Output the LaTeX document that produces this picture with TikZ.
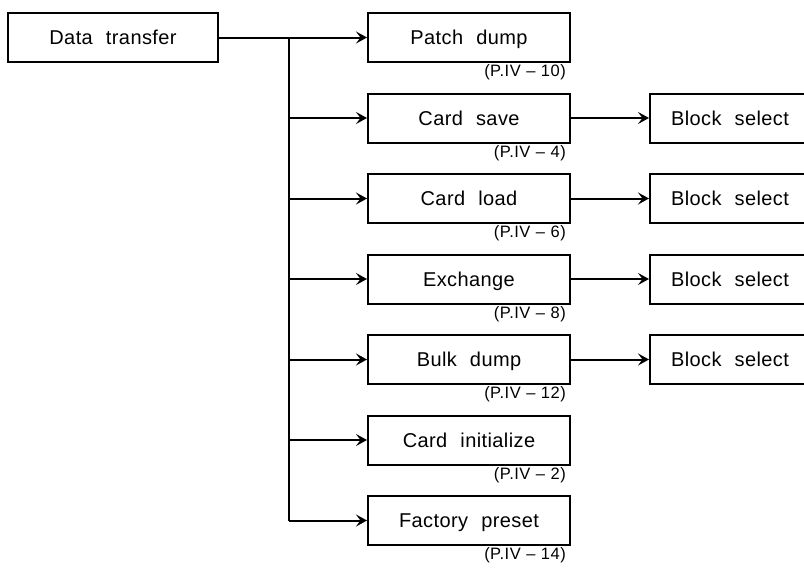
\documentclass[tikz,border=0pt]{standalone}
\usepackage{fontspec}
\setmainfont{Liberation Sans}[LetterSpace=2,WordSpace=2.2]
\newfontfamily\reffont{Liberation Sans}[LetterSpace=3]
\usetikzlibrary{arrows.meta}
\begin{document}
\begin{tikzpicture}[x=1pt,y=-1pt,
  box/.style={draw,line width=2pt,minimum height=49pt,inner sep=0pt,text height=14pt,text depth=0pt,font=\fontsize{20}{22}\selectfont},
  midbox/.style={box,minimum width=202pt},
  endbox/.style={box,minimum width=160pt,anchor=west},
  ref/.style={font=\reffont\fontsize{16.5}{18}\selectfont,anchor=east,inner sep=0pt},
  conn/.style={line width=2pt},
  arr/.style={conn,-{Stealth[length=11pt,width=12pt,inset=4.5pt]}}]
\useasboundingbox (0,0) rectangle (804,573);
\node[box,minimum width=210pt] (dt) at (113,37.5) {Data transfer};
\node[midbox] (m0) at (469,37.5) {Patch dump};
\node[midbox] (m1) at (469,118) {Card save};
\node[midbox] (m2) at (469,198.5) {Card load};
\node[midbox] (m3) at (469,279) {Exchange};
\node[midbox] (m4) at (469,359.5) {Bulk dump};
\node[midbox] (m5) at (469,440) {Card initialize};
\node[midbox] (m6) at (469,520.5) {Factory preset};
\node[ref] (r0) at (566,72.5) {(P.IV\,\,–\,\,10)};
\node[ref] (r1) at (566,153) {(P.IV\,\,–\,\,4)};
\node[ref] (r2) at (566,233.5) {(P.IV\,\,–\,\,6)};
\node[ref] (r3) at (566,314) {(P.IV\,\,–\,\,8)};
\node[ref] (r4) at (566,394.5) {(P.IV\,\,–\,\,12)};
\node[ref] (r5) at (566,475) {(P.IV\,\,–\,\,2)};
\node[ref] (r6) at (566,555.5) {(P.IV\,\,–\,\,14)};
\node[endbox] (b1) at (649,118) {Block select};
\node[endbox] (b2) at (649,198.5) {Block select};
\node[endbox] (b3) at (649,279) {Block select};
\node[endbox] (b4) at (649,359.5) {Block select};
\coordinate (t0) at (289,37.5);
\coordinate (t6) at (289,520.5);
\draw[arr] (dt.east) -- (m0.west);
\draw[conn] (t0) -- (t6);
\foreach \i in {1,...,6} {\draw[arr] (t6 |- m\i.west) -- (m\i.west);}
\foreach \i in {1,...,4} {\draw[arr] (m\i.east) -- (b\i.west);}
\end{tikzpicture}
\end{document}
